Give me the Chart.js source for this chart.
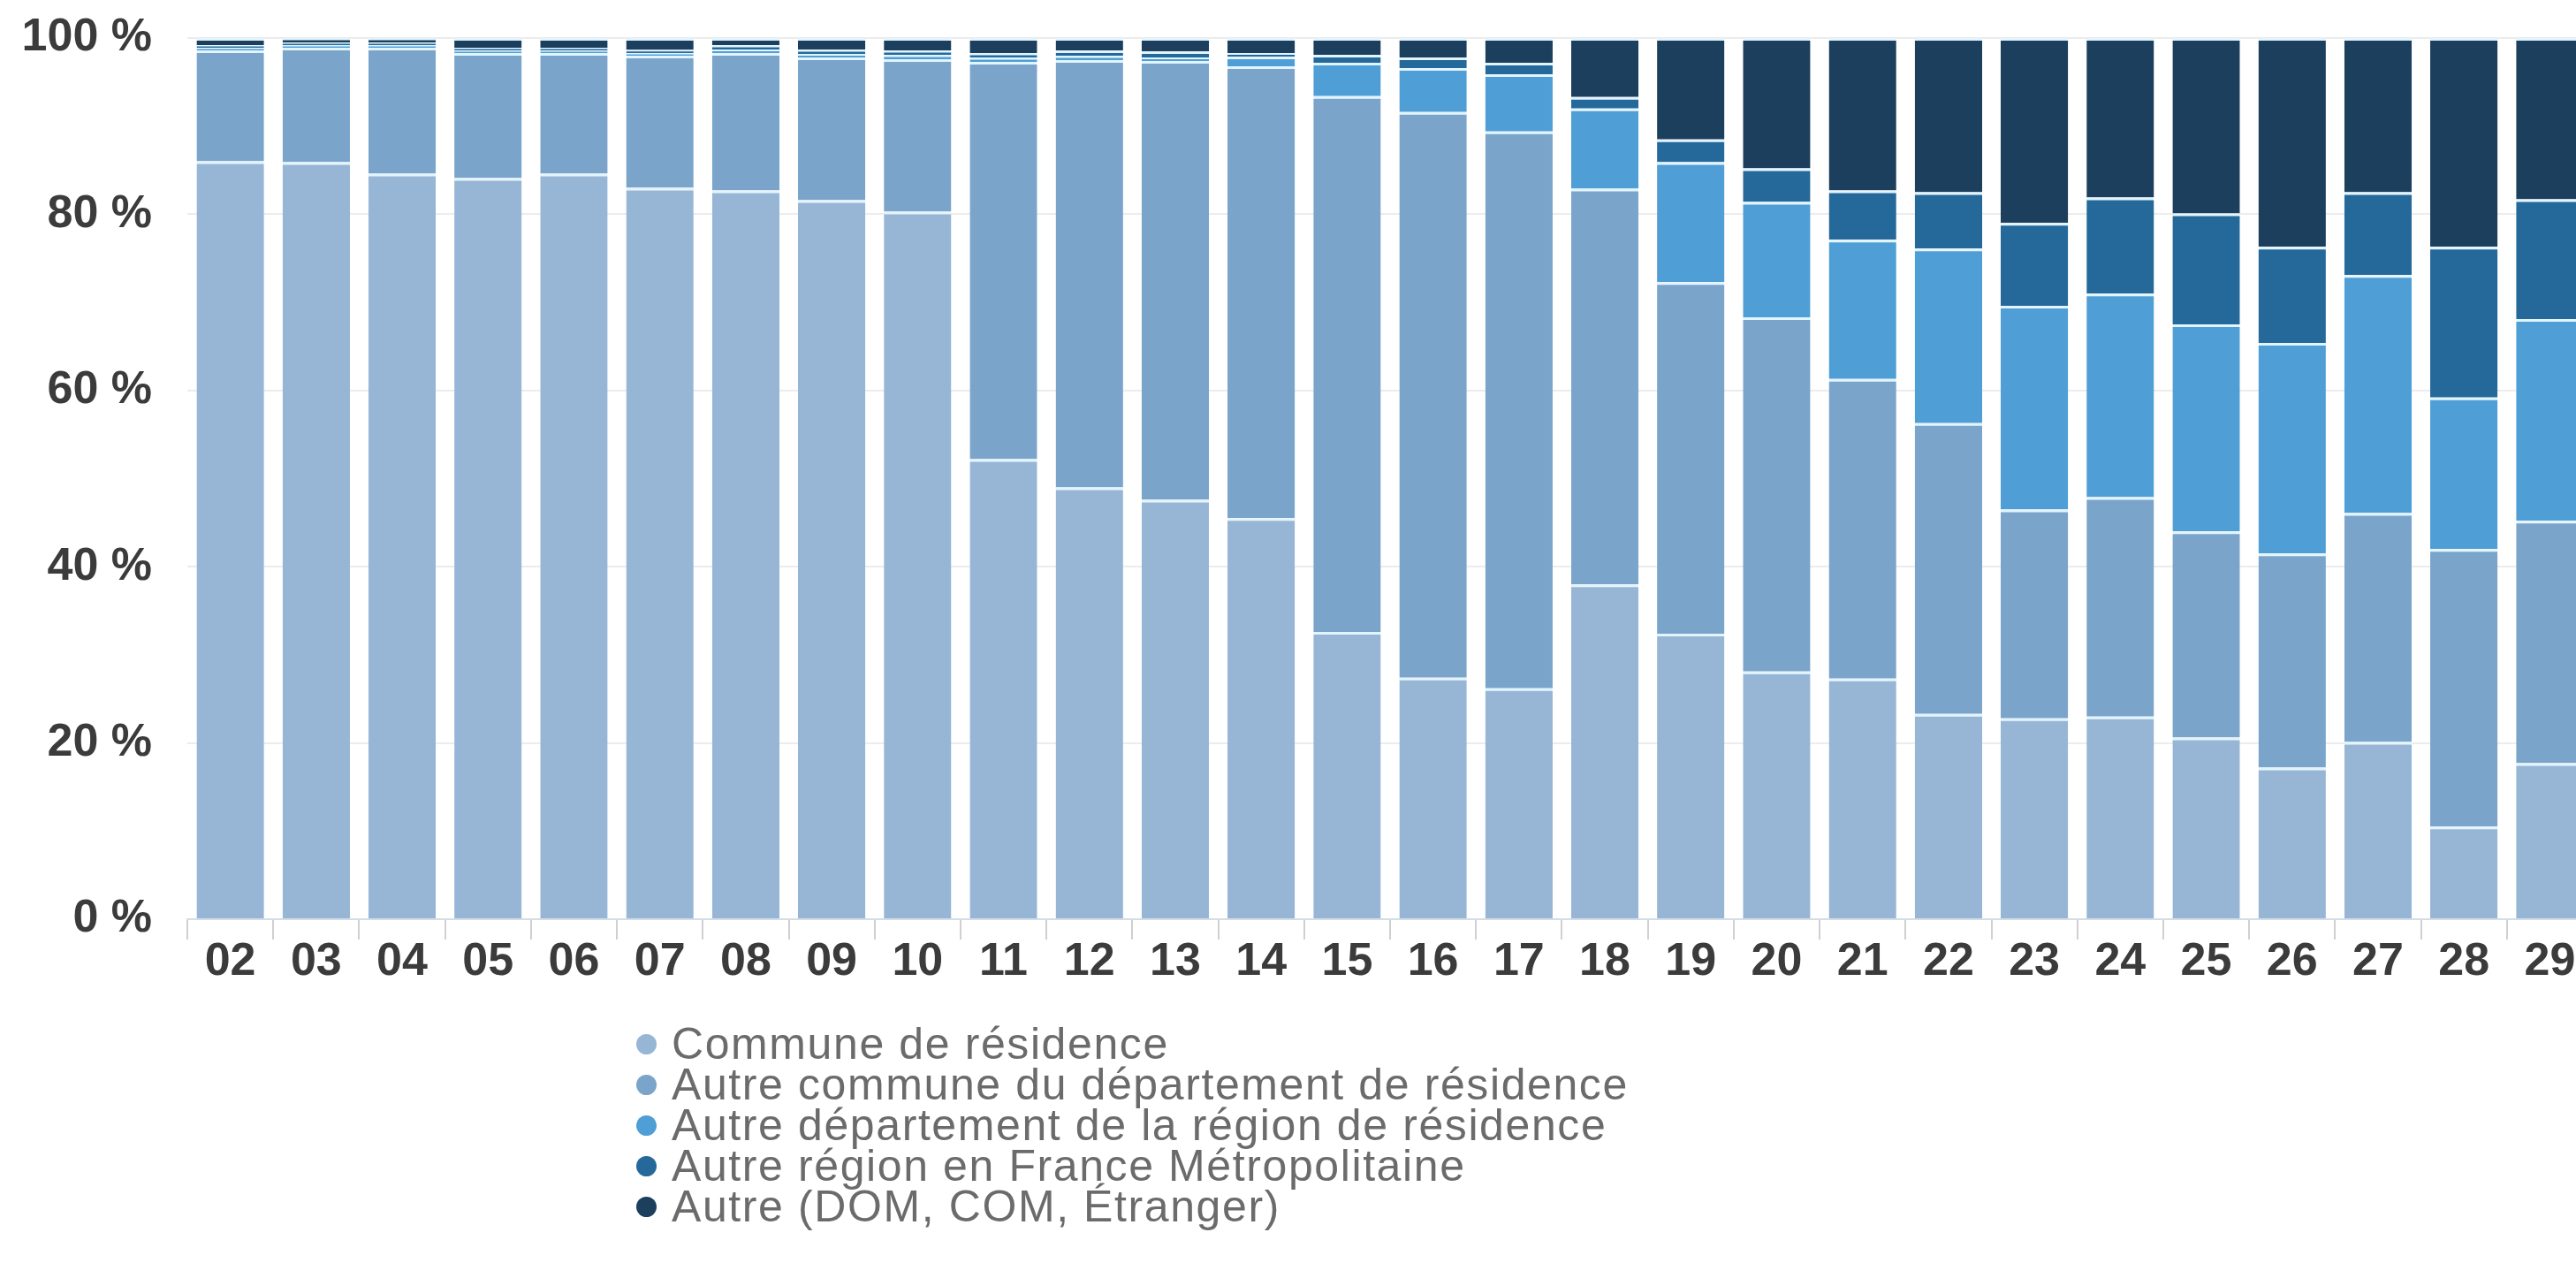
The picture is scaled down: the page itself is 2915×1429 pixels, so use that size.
<!DOCTYPE html>
<html lang="fr">
<head>
    <meta charset="UTF-8">
    <title>Lieu de résidence par âge</title>
    <script src="https://cdn.jsdelivr.net/npm/chart.js"></script>
    <style>
        * {
            margin: 0;
            padding: 0;
            box-sizing: border-box;
        }
        body {
            background: white;
            width: 2915px;
            height: 1429px;
            overflow: hidden;
            position: relative;
            font-family: 'Liberation Sans', Arial, Helvetica, sans-serif;
        }
        #chart {
            position: absolute;
            left: 0;
            top: 0;
        }

        /* Legend */
        .legend {
            position: absolute;
            left: 720px;
            top: 1158px;
            list-style: none;
        }
        .legend li {
            display: flex;
            align-items: center;
            height: 46px;
            font-size: 50px;
            letter-spacing: 1.6px;
            color: #6b6b6b;
            white-space: nowrap;
        }
        .legend .dot {
            width: 23px;
            height: 23px;
            border-radius: 50%;
            margin-right: 17px;
            flex: none;
        }
    </style>
</head>
<body>

    <canvas id="chart" width="2934" height="1120"></canvas>
    <ul class="legend" id="legend"></ul>

<script>
    // categories (x axis)
    var categories = ["02", "03", "04", "05", "06", "07", "08", "09", "10", "11", "12", "13", "14", "15",
                      "16", "17", "18", "19", "20", "21", "22", "23", "24", "25", "26", "27", "28", "29"];

    // series, in % (bottom to top of each stack)
    var communeResidence = [86.0, 85.9, 84.6, 84.1, 84.6, 83.0, 82.7, 81.6, 80.3, 52.2, 49.0, 47.6, 45.5, 32.6,
                            27.4, 26.2, 38.0, 32.4, 28.1, 27.3, 23.3, 22.8, 23.0, 20.6, 17.2, 20.1, 10.5, 17.7];
    var autreCommune = [12.6, 13.0, 14.3, 14.2, 13.7, 15.0, 15.6, 16.2, 17.3, 45.1, 48.5, 49.8, 51.3, 60.8,
                        64.2, 63.2, 44.9, 39.9, 40.2, 34.0, 33.0, 23.7, 24.9, 23.4, 24.3, 26.0, 31.5, 27.5];
    var autreDepartement = [0.3, 0.3, 0.3, 0.3, 0.3, 0.3, 0.4, 0.4, 0.5, 0.5, 0.5, 0.4, 1.1, 3.8,
                            5.0, 6.5, 9.1, 13.6, 13.1, 15.8, 19.8, 23.1, 23.1, 23.5, 23.9, 27.0, 17.2, 22.9];
    var autreRegion = [0.3, 0.3, 0.3, 0.3, 0.3, 0.35, 0.5, 0.5, 0.5, 0.5, 0.6, 0.7, 0.4, 0.9,
                       1.2, 1.3, 1.3, 2.6, 3.8, 5.6, 6.4, 9.4, 10.9, 12.6, 10.9, 9.4, 17.1, 13.6];
    var autreEtranger = [0.8, 0.5, 0.5, 1.1, 1.1, 1.35, 0.8, 1.3, 1.4, 1.7, 1.4, 1.5, 1.7, 1.9,
                         2.2, 2.8, 6.7, 11.5, 14.8, 17.3, 17.5, 21.0, 18.1, 19.9, 23.7, 17.5, 23.7, 18.3];

    // y tick values
    var yTicks = [0, 20, 40, 60, 80, 100];

    var seriesNames = [
        "Commune de résidence",
        "Autre commune du département de résidence",
        "Autre département de la région de résidence",
        "Autre région en France Métropolitaine",
        "Autre (DOM, COM, Étranger)"
    ];
    var seriesColors = ["#97b6d6", "#7ba4cb", "#4f9ed5", "#25699a", "#1b3f5d"];
    var seriesData = [communeResidence, autreCommune, autreDepartement, autreRegion, autreEtranger];

    var tickFont = { family: "'Liberation Sans', Arial, sans-serif", size: 52, weight: "bold", lineHeight: 1 };

    var datasets = seriesData.map(function (d, i) {
        return {
            label: seriesNames[i],
            data: d,
            backgroundColor: seriesColors[i],
            borderColor: "#e2f5ff",
            borderWidth: { top: 3, right: 0, bottom: 0, left: 0 },
            borderSkipped: false,
            categoryPercentage: 1,
            barPercentage: 0.785
        };
    });

    var ctx = document.getElementById("chart").getContext("2d");
    var chart = new Chart(ctx, {
        type: "bar",
        data: { labels: categories, datasets: datasets },
        options: {
            responsive: false,
            animation: false,
            devicePixelRatio: 1,
            layout: { padding: { top: 43, right: 0, bottom: 0, left: 0 } },
            plugins: {
                legend: { display: false },
                tooltip: { enabled: false }
            },
            scales: {
                x: {
                    stacked: true,
                    grid: {
                        drawOnChartArea: false,
                        drawTicks: true,
                        tickLength: 23,
                        color: "#d0d0d0",
                        lineWidth: 2
                    },
                    border: { display: true, color: "#d3dde6", width: 2 },
                    ticks: {
                        font: tickFont,
                        color: "#3b3b3b",
                        padding: 0,
                        maxRotation: 0,
                        autoSkip: false
                    },
                    afterFit: function (scale) { scale.height = 80; }
                },
                y: {
                    stacked: true,
                    min: 0,
                    max: 100,
                    afterBuildTicks: function (scale) {
                        scale.ticks = yTicks.map(function (v) { return { value: v }; });
                    },
                    grid: {
                        drawTicks: true,
                        tickLength: 40,
                        tickColor: "rgba(0,0,0,0)",
                        color: "#ececec",
                        lineWidth: 2
                    },
                    border: { display: false },
                    ticks: {
                        font: tickFont,
                        color: "#3b3b3b",
                        padding: 0,
                        callback: function (value) { return value + " %"; }
                    },
                    afterFit: function (scale) { scale.width = 212; }
                }
            }
        }
    });

    // HTML legend built from the chart's datasets
    var legend = document.getElementById("legend");
    chart.data.datasets.forEach(function (ds) {
        var li = document.createElement("li");
        var dot = document.createElement("span");
        dot.className = "dot";
        dot.style.background = ds.backgroundColor;
        li.appendChild(dot);
        li.appendChild(document.createTextNode(ds.label));
        legend.appendChild(li);
    });
</script>

</body>
</html>
